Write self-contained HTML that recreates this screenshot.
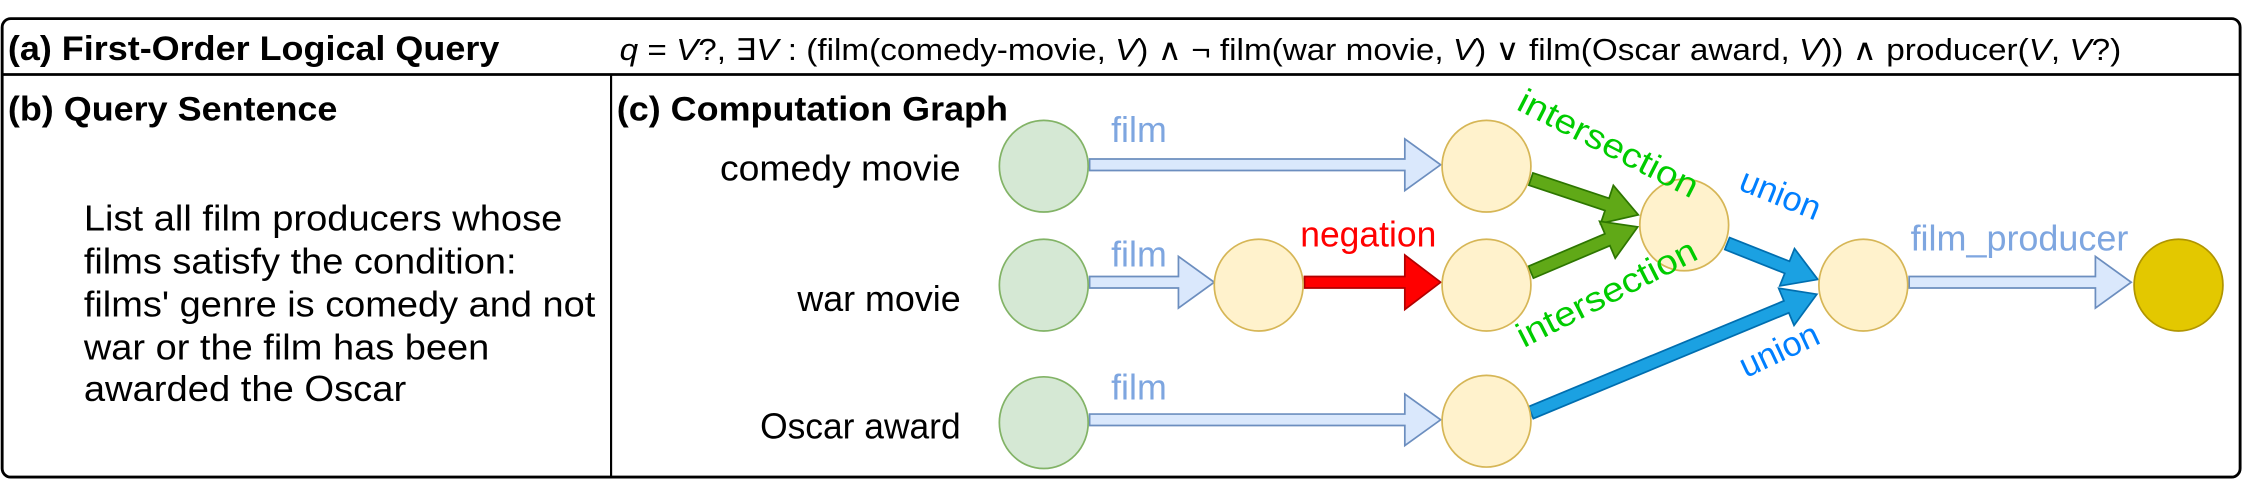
<!DOCTYPE html>
<html><head><meta charset="utf-8"><style>
html,body{margin:0;padding:0;background:#fff;width:2248px;height:490px;overflow:hidden}
svg{display:block}
text{font-family:"Liberation Sans",sans-serif}
</style></head><body>
<svg width="2248" height="490" viewBox="0 0 1568 342" xmlns="http://www.w3.org/2000/svg">
<rect x="1" y="13" width="1562" height="320" rx="6" fill="#fff" stroke="#000" stroke-width="2"/>
<line x1="1" y1="52" x2="1563" y2="52" stroke="#000" stroke-width="2"/>
<line x1="426" y1="52" x2="426" y2="333" stroke="#000" stroke-width="1.5"/>
<text x="5" y="42" font-size="24" font-weight="bold" textLength="343" lengthAdjust="spacingAndGlyphs">(a) First-Order Logical Query</text>
<text x="432" y="42" font-size="21" font-family="Liberation Serif,serif" textLength="1048" lengthAdjust="spacingAndGlyphs"><tspan font-style="italic">q</tspan> = <tspan font-style="italic">V</tspan>?, ∃<tspan font-style="italic">V</tspan> : (film(comedy-movie, <tspan font-style="italic">V</tspan>) ∧ ¬ film(war movie, <tspan font-style="italic">V</tspan>) ∨ film(Oscar award, <tspan font-style="italic">V</tspan>)) ∧ producer(<tspan font-style="italic">V</tspan>, <tspan font-style="italic">V</tspan>?)</text>
<text x="5" y="84" font-size="24" font-weight="bold" textLength="230" lengthAdjust="spacingAndGlyphs">(b) Query Sentence</text>
<text x="430" y="84" font-size="24" font-weight="bold" textLength="273" lengthAdjust="spacingAndGlyphs">(c) Computation Graph</text>
<g font-size="25">
<text x="58" y="161" textLength="334" lengthAdjust="spacingAndGlyphs">List all film producers whose</text>
<text x="58" y="191" textLength="302" lengthAdjust="spacingAndGlyphs">films satisfy the condition:</text>
<text x="58" y="221" textLength="357" lengthAdjust="spacingAndGlyphs">films' genre is comedy and not</text>
<text x="58" y="251" textLength="283" lengthAdjust="spacingAndGlyphs">war or the film has been</text>
<text x="58" y="280" textLength="225" lengthAdjust="spacingAndGlyphs">awarded the Oscar</text>
</g>
<g font-size="25" text-anchor="end">
<text x="670" y="126" textLength="168" lengthAdjust="spacingAndGlyphs">comedy  movie</text>
<text x="670" y="217" textLength="114" lengthAdjust="spacingAndGlyphs">war movie</text>
<text x="670" y="306" textLength="140" lengthAdjust="spacingAndGlyphs">Oscar award</text>
</g>
<g fill="#dae8fc" stroke="#6c8ebf" stroke-width="1.2">
<polygon transform="translate(760,115)" points="0,-4 220,-4 220,-18 245,0 220,18 220,4 0,4"/>
<polygon transform="translate(760,197)" points="0,-4 62,-4 62,-18 87,0 62,18 62,4 0,4"/>
<polygon transform="translate(760,293)" points="0,-4 220,-4 220,-18 245,0 220,18 220,4 0,4"/>
<polygon transform="translate(1332,197)" points="0,-4 130,-4 130,-18 155,0 130,18 130,4 0,4"/>
</g>
<polygon transform="translate(910,197)" points="0,-4 70,-4 70,-19 95,0 70,19 70,4 0,4" fill="#ff0000" stroke="#B20000" stroke-width="1.2"/>
<g fill="#60a917" stroke="#2D7600" stroke-width="1.2">
<polygon transform="translate(1068,125) rotate(18.4)" points="0,-4.5 56,-4.5 56,-14 79,0 56,14 56,4.5 0,4.5"/>
<polygon transform="translate(1068,190) rotate(-23)" points="0,-4.5 58,-4.5 58,-14 81,0 58,14 58,4.5 0,4.5"/>
</g>
<g fill="#1ba1e2" stroke="#006EAF" stroke-width="1.2">
<polygon transform="translate(1205,170) rotate(21.6)" points="0,-4.5 45,-4.5 45,-14 68,0 45,14 45,4.5 0,4.5"/>
<polygon transform="translate(1068,288) rotate(-22.5)" points="0,-4.5 193,-4.5 193,-14 216,0 193,14 193,4.5 0,4.5"/>
</g>
<g fill="#d5e8d4" stroke="#82b366" stroke-width="1.2">
<ellipse cx="728" cy="116" rx="31" ry="32"/>
<ellipse cx="728" cy="199" rx="31" ry="32"/>
<ellipse cx="728" cy="295" rx="31" ry="32"/>
</g>
<g fill="#fff2cc" stroke="#d6b656" stroke-width="1.2">
<ellipse cx="1037" cy="116" rx="31" ry="32"/>
<ellipse cx="878" cy="199" rx="31" ry="32"/>
<ellipse cx="1037" cy="199" rx="31" ry="32"/>
<ellipse cx="1175" cy="157" rx="31" ry="32"/>
<ellipse cx="1300" cy="199" rx="31" ry="32"/>
<ellipse cx="1037" cy="294" rx="31" ry="32"/>
</g>
<ellipse cx="1520" cy="199" rx="31" ry="32" fill="#e3c800" stroke="#B09500" stroke-width="1.2"/>
<g font-size="25" fill="#7ea6e0">
<text x="775" y="99">film</text>
<text x="775" y="186">film</text>
<text x="775" y="279">film</text>
<text x="1333" y="175" textLength="152" lengthAdjust="spacingAndGlyphs">film_producer</text>
</g>
<text x="907" y="172" font-size="25" fill="#ff0000" textLength="95" lengthAdjust="spacingAndGlyphs">negation</text>
<g font-size="24" fill="#00cc00">
<text transform="translate(1057,76) rotate(27)" textLength="138" lengthAdjust="spacingAndGlyphs">intersection</text>
<text transform="translate(1063,243) rotate(-27)" textLength="138" lengthAdjust="spacingAndGlyphs">intersection</text>
</g>
<g font-size="24" fill="#007fff">
<text transform="translate(1212,132) rotate(22)">union</text>
<text transform="translate(1218,264) rotate(-25)">union</text>
</g>
</svg>
</body></html>
